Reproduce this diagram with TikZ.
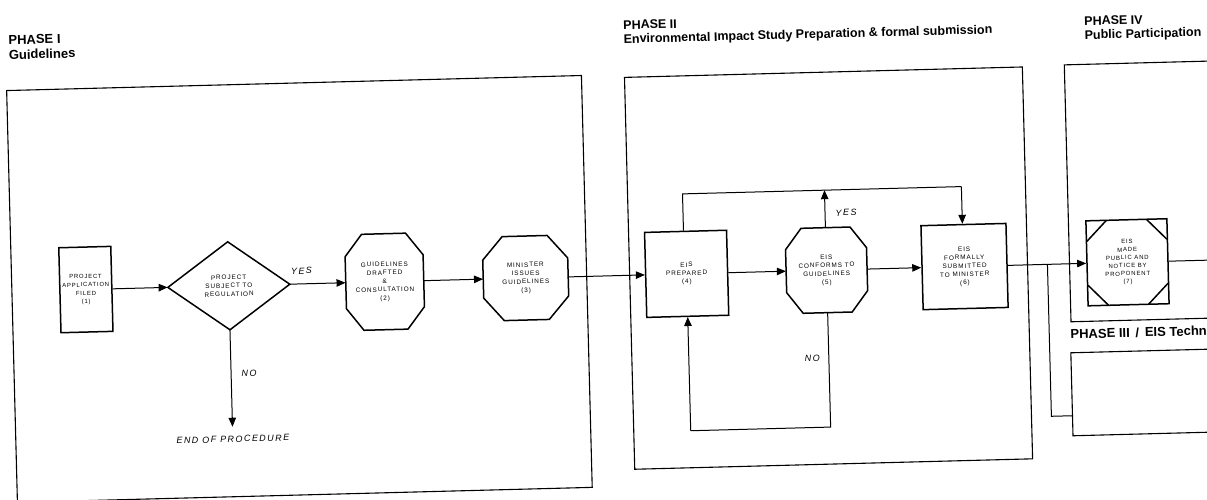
\documentclass[tikz,border=0pt]{standalone}
\usepackage{fontspec}
\newfontfamily\hdfont{Liberation Sans}[FakeStretch=1.0]
\newfontfamily\ndfont{Liberation Sans}[LetterSpace=14]
\newfontfamily\lbfont{Liberation Sans}[LetterSpace=16]
\usetikzlibrary{arrows.meta}
\newcommand\octo[6]{%
  \draw[shp] (#1-#3+#5,#2-#4) -- (#1+#3-#5,#2-#4) -- (#1+#3,#2-#4+#6) -- (#1+#3,#2+#4-#6)
    -- (#1+#3-#5,#2+#4) -- (#1-#3+#5,#2+#4) -- (#1-#3,#2+#4-#6) -- (#1-#3,#2-#4+#6) -- cycle;}
\begin{document}
\begin{tikzpicture}[x=1pt,y=-1pt,
  phase/.style={line width=1.1pt},
  shp/.style={line width=1.5pt},
  conn/.style={line width=1pt},
  arr/.style={conn,-{Triangle[length=9pt,width=7.5pt]}},
  hd/.style={inner sep=0pt,align=left,font=\hdfont\bfseries\fontsize{13}{15}\selectfont},
  hdb/.style={inner sep=0pt,align=left,font=\hdfont\bfseries\fontsize{12.5}{14}\selectfont},
  txt/.style={rectangle,inner sep=0pt,align=center,font=\ndfont\fontsize{6.4}{8.4}\selectfont},
  lab/.style={inner sep=0pt,font=\lbfont\itshape\fontsize{9}{10}\selectfont}]
\useasboundingbox (0,0) rectangle (1207,499);
\clip (0,0) rectangle (1207,499);
\fill[white] (0,0) rectangle (1207,499);
\begin{scope}[rotate around={1.5:(603,250)}, transform shape]
% phase frames
\draw[phase] (11,75) rectangle (586,487);
\draw[phase] (629,78) rectangle (1027,470);
\draw[phase] (1069,77) rectangle (1240,334);
\draw[phase] (1068,365) rectangle (1240,448);
% headings
\node[hd,anchor=base west] (p1) at (14,44) {PHASE I\\Guidelines};
\node[hdb,anchor=base west] (p2) at (629,44) {PHASE II\\Environmental Impact Study Preparation \& formal submission};
\node[hdb,anchor=base west] (p4) at (1090,52) {PHASE IV\\Public Participation};
\node[hd,anchor=base west] (p3) at (1068,351) {PHASE III \,/\, EIS Technical Review};
% nodes
\node[txt,draw,shp,minimum width=52,minimum height=85,font=\ndfont\fontsize{5.9}{8.4}\selectfont] (n1) at (85,276) {PROJECT\\APPLICATION\\FILED\\(1)};
\draw[shp] (167,276) -- (228,232) -- (289,276) -- (228,320) -- cycle;
\node[txt,minimum width=122,minimum height=88] (n2) at (228,276) {PROJECT\\SUBJECT TO\\REGULATION};
\octo{384}{276}{39}{48}{17}{22}
\node[txt,minimum width=78,minimum height=96] (n3) at (384,276) {GUIDELINES\\DRAFTED\\\&\\CONSULTATION\\(2)};
\octo{525}{276}{42.5}{42}{20}{23}
\node[txt,minimum width=85,minimum height=84] (n4) at (525,276) {MINISTER\\ISSUES\\GUIDELINES\\(3)};
\node[txt,draw,shp,minimum width=82,minimum height=85] (n5) at (686,276) {EIS\\PREPARED\\(4)};
\octo{826}{276}{40.5}{42.5}{16}{21}
\node[txt,minimum width=81,minimum height=85] (n6) at (826,276) {EIS\\CONFORMS TO\\GUIDELINES\\(5)};
\node[txt,draw,shp,minimum width=85,minimum height=84] (n7) at (964,276) {EIS\\FORMALLY\\SUBMITTED\\TO MINISTER\\(6)};
\node[txt,draw,shp,minimum width=81,minimum height=85,font=\ndfont\fontsize{6}{8}\selectfont] (n8) at (1127,276) {EIS\\MADE\\PUBLIC AND\\NOTICE BY\\PROPONENT\\(7)};
\draw[shp] (1087,298) -- (1107,318.5) (1147,318.5) -- (1167,298) (1167,254) -- (1147,233.5) (1107,233.5) -- (1087,254);
\node[lab,anchor=north] (endp) at (228,426) {END OF PROCEDURE};
% coordinates
\coordinate (tl) at (684,196);
\coordinate (tr) at (963,196);
\coordinate (ty) at (826,196);
\coordinate (bl) at (686,433);
\coordinate (br) at (826,433);
\coordinate (br3) at (1047,276);
\coordinate (bd3) at (1047,428);
\coordinate (b3) at (1068,428);
\coordinate (out) at (1240,276);
% connectors
\draw[arr] (n1.east) -- (n2.west);
\draw[arr] (n2.east) -- (n3.west);
\node[lab] (yes1) at (301,263) {YES};
\draw[arr] (n3.east) -- (n4.west);
\draw[arr] (n4.east) -- (n5.west);
\draw[arr,shorten >=9pt] (n2.south) -- (endp.north);
\node[lab] (no1) at (246,364) {NO};
\draw[arr] (n5.east) -- (n6.west);
\draw[arr] (n6.east) -- (n7.west);
\draw[conn] (n5.north -| tl) -- (tl) -- (tr);
\draw[arr] (tr) -- (n7.north -| tr);
\draw[arr] (n6.north) -- (ty);
\node[lab] (yes2) at (847,219) {YES};
\draw[conn] (n6.south) -- (br) -- (bl);
\draw[arr] (bl) -- (n5.south);
\node[lab,anchor=east] (no2) at (817,364) {NO};
\draw[arr] (n7.east) -- (n8.west);
\draw[conn] (br3) -- (bd3) -- (b3);
\draw[conn] (n8.east) -- (out);
\end{scope}
\end{tikzpicture}
\end{document}
